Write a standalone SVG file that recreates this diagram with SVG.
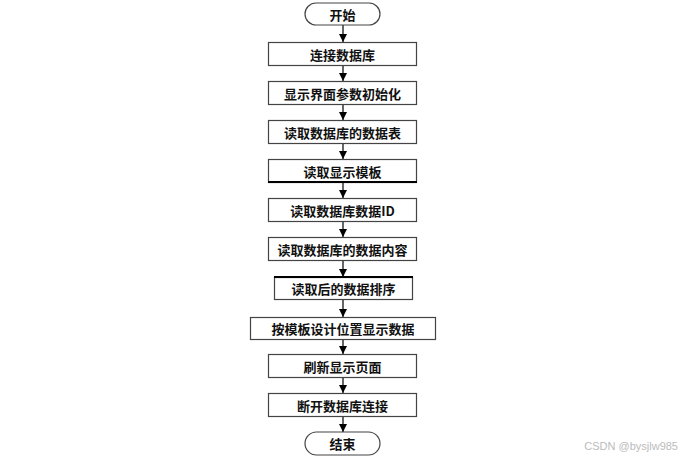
<svg xmlns="http://www.w3.org/2000/svg" width="686" height="459" viewBox="0 0 686 459">
<defs>
<marker id="arr" viewBox="0 0 10 10" refX="10" refY="5" markerWidth="8" markerHeight="10" markerUnits="userSpaceOnUse" orient="auto">
<path d="M0,0 L10,5 L0,10 z" fill="#000"/>
</marker>
<style>
.box{fill:#fff;stroke:#444;stroke-width:1.2}
.t{font-family:"Noto Sans CJK SC","Liberation Serif",serif;font-size:13px;font-weight:bold;fill:#111;text-anchor:middle;dominant-baseline:central}
.c{stroke:#000;stroke-width:1.2;fill:none;marker-end:url(#arr)}
.thick{stroke:#000;stroke-width:2.2}
</style>
</defs>
<rect width="686" height="459" fill="#fff"/>
<g id="connectors">
<line class="c" x1="343" y1="25" x2="343" y2="42"/>
<line class="c" x1="343" y1="65" x2="343" y2="81"/>
<line class="c" x1="343" y1="104" x2="343" y2="120"/>
<line class="c" x1="343" y1="143" x2="343" y2="159"/>
<line class="c" x1="343" y1="182" x2="343" y2="198"/>
<line class="c" x1="343" y1="221" x2="343" y2="237"/>
<line class="c" x1="343" y1="260" x2="343" y2="277"/>
<line class="c" x1="343" y1="299" x2="343" y2="317"/>
<line class="c" x1="343" y1="339" x2="343" y2="354"/>
<line class="c" x1="343" y1="377" x2="343" y2="393"/>
<line class="c" x1="343" y1="416" x2="343" y2="432"/>
</g>
<g id="start">
<rect class="box" x="305" y="3" width="75" height="22" rx="11" ry="11"/>
<text class="t" x="342.5" y="14">开始</text>
</g>
<g id="n1">
<rect class="box" x="268.5" y="42.5" width="148" height="23"/>
<text class="t" x="342.5" y="54">连接数据库</text>
</g>
<g id="n2">
<rect class="box" x="268.5" y="81.5" width="148" height="23"/>
<text class="t" x="342.5" y="93">显示界面参数初始化</text>
</g>
<g id="n3">
<rect class="box" x="268.5" y="120.5" width="148" height="23"/>
<text class="t" x="342.5" y="132">读取数据库的数据表</text>
</g>
<g id="n4">
<rect class="box" x="268.5" y="159.5" width="148" height="23"/>
<line class="thick" x1="268" y1="182" x2="417" y2="182"/>
<text class="t" x="342.5" y="171">读取显示模板</text>
</g>
<g id="n5">
<rect class="box" x="268.5" y="198.5" width="148" height="23"/>
<text class="t" x="342.5" y="210">读取数据库数据ID</text>
</g>
<g id="n6">
<rect class="box" x="268.5" y="237.5" width="148" height="23"/>
<text class="t" x="342.5" y="249">读取数据库的数据内容</text>
</g>
<g id="n7">
<rect class="box" x="274.5" y="277.5" width="138" height="22"/>
<line class="thick" x1="274" y1="277" x2="413" y2="277"/>
<text class="t" x="343.5" y="288.5">读取后的数据排序</text>
</g>
<g id="n8">
<rect class="box" x="250.5" y="317.5" width="185" height="22"/>
<text class="t" x="343" y="328.5">按模板设计位置显示数据</text>
</g>
<g id="n9">
<rect class="box" x="268.5" y="354.5" width="148" height="23"/>
<text class="t" x="342.5" y="366">刷新显示页面</text>
</g>
<g id="n10">
<rect class="box" x="268.5" y="393.5" width="148" height="23"/>
<text class="t" x="342.5" y="405">断开数据库连接</text>
</g>
<g id="end">
<rect class="box" x="305" y="432" width="75" height="23" rx="11.5" ry="11.5"/>
<text class="t" x="342.5" y="443.5">结束</text>
</g>
<text x="678" y="450" style="font-family:'Liberation Sans',sans-serif;font-size:11px;fill:#bbb;text-anchor:end">CSDN @bysjlw985</text>
</svg>
